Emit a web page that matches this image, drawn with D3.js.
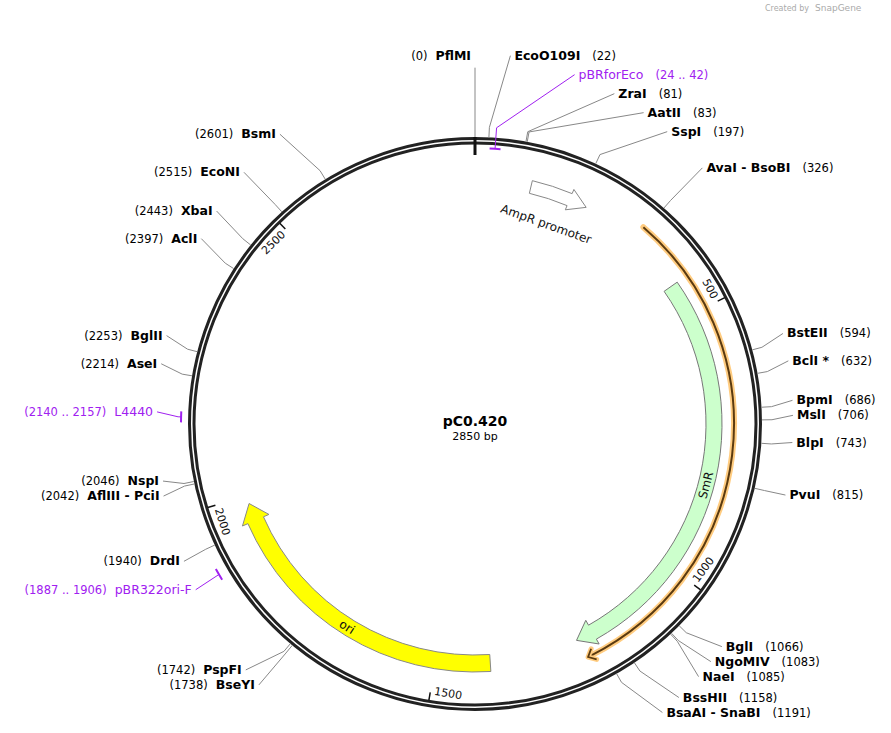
<!DOCTYPE html>
<html><head><meta charset="utf-8">
<script src="https://cdn.jsdelivr.net/npm/d3@7"></script>
<style>body{margin:0;background:#fff}svg{font-family:"DejaVu Sans",Verdana,sans-serif}</style>
</head><body><svg id="c" width="891" height="733"></svg>
<script>
const plasmidName = "pC0.420";
const plasmidLength = 2850;
const siteNames = ["PflMI","EcoO109I","ZraI","AatII","SspI","AvaI  - BsoBI","BstEII","BclI *","BpmI","MslI","BlpI","PvuI","BglI","NgoMIV","NaeI","BssHII","BsaAI  - SnaBI","PspFI","BseYI","DrdI","AflIII  - PciI","NspI","AseI","BglII","AclI","XbaI","EcoNI","BsmI"];
const sitePositions = [0,22,81,83,197,326,594,632,686,706,743,815,1066,1083,1085,1158,1191,1742,1738,1940,2042,2046,2214,2253,2397,2443,2515,2601];
const primerNames = ["pBRforEco","L4440","pBR322ori-F"];
const primerStarts = [24,2140,1887];
const primerEnds = [42,2157,1906];
const featureNames = ["AmpR promoter","SmR","ori",""];
const featureStarts = [105,435,1396,321];
const featureEnds = [215,1226,1984,1220];
const featureStrands = [1,1,1,1];
const tickValues = [500,1000,1500,2000,2500];

const svg = d3.select("#c");
const cx = 475, cy = 424, R = 287;
const ang = d3.scaleLinear().domain([0, plasmidLength]).range([0, 2*Math.PI]);
const pt = (a, r) => [cx + r*Math.sin(a), cy - r*Math.cos(a)];
const deg = a => a*180/Math.PI;

svg.append("text").attr("x",765).attr("y",11).attr("font-size",8).attr("fill","#aaa").text("Created by ");
svg.append("text").attr("x",815).attr("y",11).attr("font-size",9).attr("fill","#aaa").text("SnapGene");

function arcPath(a0, a1, r0, r1, strand){
  const head = 0.075;
  const rm = (r0+r1)/2, w = (r1-r0);
  const p = d3.path();
  if (strand > 0){
    const ab = Math.max(a0, a1 - head);
    let q = pt(a0, r1); p.moveTo(q[0], q[1]);
    p.arc(cx, cy, r1, a0 - Math.PI/2, ab - Math.PI/2, false);
    q = pt(ab, r1 + w*0.35); p.lineTo(q[0], q[1]);
    q = pt(a1, rm); p.lineTo(q[0], q[1]);
    q = pt(ab, r0 - w*0.35); p.lineTo(q[0], q[1]);
    q = pt(ab, r0); p.lineTo(q[0], q[1]);
    p.arc(cx, cy, r0, ab - Math.PI/2, a0 - Math.PI/2, true);
    p.closePath();
  } else {
    const ab = Math.min(a1, a0 + head);
    let q = pt(a1, r1); p.moveTo(q[0], q[1]);
    p.arc(cx, cy, r1, a1 - Math.PI/2, ab - Math.PI/2, true);
    q = pt(ab, r1 + w*0.35); p.lineTo(q[0], q[1]);
    q = pt(a0, rm); p.lineTo(q[0], q[1]);
    q = pt(ab, r0 - w*0.35); p.lineTo(q[0], q[1]);
    q = pt(ab, r0); p.lineTo(q[0], q[1]);
    p.arc(cx, cy, r0, ab - Math.PI/2, a1 - Math.PI/2, false);
    p.closePath();
  }
  return p.toString();
}
const fStyle = [
  {r0:237, r1:250, fill:"#fff", stroke:"#888"},
  {r0:231, r1:247, fill:"#ccffcc", stroke:"#777"},
  {r0:231, r1:248, fill:"#ffff00", stroke:"#888"}
];
{
  const a0 = ang(featureStarts[3]), a1 = ang(featureEnds[3]);
  const line = d3.path();
  line.arc(cx, cy, 259, a0 - Math.PI/2, a1 - 0.012 - Math.PI/2, false);
  svg.append("path").attr("d", line.toString()).attr("fill","none").attr("stroke","#ffcc80").attr("stroke-width",6).attr("stroke-linecap","round");
  svg.append("path").attr("d", line.toString()).attr("fill","none").attr("stroke","#5a3a10").attr("stroke-width",2);
  const t = pt(a1, 259), b1 = pt(a1 - 0.025, 265), b2 = pt(a1 - 0.025, 253);
  svg.append("path").attr("d",`M${b1}L${t}L${b2}`).attr("fill","none").attr("stroke","#ffcc80").attr("stroke-width",5).attr("stroke-linecap","round").attr("stroke-linejoin","round");
  svg.append("path").attr("d",`M${b1}L${t}L${b2}`).attr("fill","none").attr("stroke","#5a3a10").attr("stroke-width",1.8);
}
featureNames.slice(0,3).forEach((n,i) => {
  const s = fStyle[i];
  svg.append("path").attr("d", arcPath(ang(featureStarts[i]), ang(featureEnds[i]), s.r0, s.r1, featureStrands[i]))
    .attr("fill", s.fill).attr("stroke", s.stroke).attr("stroke-width", 1);
});
const fLab = [{pos:155, r:212},{pos:830, r:239},{pos:1680, r:240}];
fLab.forEach((l,i)=>{
  const a = ang(l.pos), q = pt(a, l.r);
  let rot = deg(a); if (rot > 90 && rot < 270) rot -= 180;
  svg.append("text").attr("transform",`translate(${q[0]},${q[1]}) rotate(${rot})`)
    .attr("text-anchor","middle").attr("dominant-baseline","central").attr("font-size",12).attr("fill","#111").text(featureNames[i]);
});

svg.append("circle").attr("cx",cx).attr("cy",cy).attr("r",R-1.5).attr("fill","none").attr("stroke","#222").attr("stroke-width",3);
svg.append("circle").attr("cx",cx).attr("cy",cy).attr("r",R-6).attr("fill","none").attr("stroke","#222").attr("stroke-width",3);
{ const a = pt(0, R), b = pt(0, 269);
  svg.append("line").attr("x1",a[0]).attr("y1",a[1]).attr("x2",b[0]).attr("y2",b[1]).attr("stroke","#111").attr("stroke-width",3); }

tickValues.forEach(v=>{
  const a = ang(v), p1 = pt(a, 280), p2 = pt(a, 272);
  svg.append("line").attr("x1",p1[0]).attr("y1",p1[1]).attr("x2",p2[0]).attr("y2",p2[1]).attr("stroke","#111").attr("stroke-width",1.5);
  const label = String(v);
  const off = (label.length*7/2 + 4)/272;
  const q = pt(a - off, 271);
  let rot = deg(a); if (rot > 90 && rot < 270) rot -= 180;
  svg.append("text").attr("transform",`translate(${q[0]},${q[1]}) rotate(${rot})`)
    .attr("text-anchor","middle").attr("dominant-baseline","central").attr("font-size",11).attr("fill","#111").text(label);
});

const purple = "#a020f0";
const primerR = [276, 294, 297];
primerNames.forEach((n,i)=>{
  const p = d3.path();
  p.arc(cx, cy, primerR[i], ang(primerStarts[i]) - Math.PI/2, ang(primerEnds[i]) - Math.PI/2, false);
  svg.append("path").attr("d", p.toString()).attr("fill","none").attr("stroke",purple).attr("stroke-width",2);
});

const items = [];
siteNames.forEach((n,i)=> items.push({name:n, num:`(${sitePositions[i]})`, pos:sitePositions[i], r0:R, primer:false}));
primerNames.forEach((n,i)=> items.push({name:n, num:`(${primerStarts[i]} .. ${primerEnds[i]})`, pos:(primerStarts[i]+primerEnds[i])/2, r0:primerR[i], primer:true}));
const LR = 335, gap = 15;
items.forEach(d=>{ d.a = ang(d.pos); d.ny = cy - LR*Math.cos(d.a); d.right = d.pos > 0 && d.pos <= plasmidLength/2; });
function layout(list, g0){
  list.sort((a,b)=>a.ny-b.ny);
  const groups = [];
  list.forEach(it=>{
    groups.push({items:[it], c:it.ny});
    while (groups.length > 1){
      const g = groups[groups.length-1], p = groups[groups.length-2];
      const gp = p.c < 200 ? g0 : gap;
      const pBottom = p.c + (p.items.length-1)*gp/2, gTop = g.c - (g.items.length-1)*gp/2;
      if (gTop - pBottom < gp){
        const m = p.items.concat(g.items);
        groups.splice(-2, 2, {items:m, c:d3.mean(m, d=>d.ny)});
      } else break;
    }
  });
  groups.forEach(g=>{ const gp = g.c < 200 ? g0 : gap; g.items.forEach((it,k)=> it.y = g.c - (g.items.length-1)*gp/2 + k*gp); });
}
const rightItems = items.filter(d=>d.right), leftItems = items.filter(d=>!d.right && d.pos>0), zero = items.filter(d=>d.pos===0);
layout(rightItems, 19); layout(leftItems, 15);
zero.forEach(d=> d.y = d3.min(rightItems, e=>e.y));
const Rx = 320, Ry = 365;
items.forEach(d=>{
  const dy = d.y - cy, ex = Rx*Math.sqrt(Math.max(0, 1 - (dy/Ry)*(dy/Ry)));
  const s = pt(d.a, 297);
  if (d.pos === 0){ d.x = cx - 4; }
  else if (d.right) d.x = Math.max(cx + ex, s[0] + 25);
  else d.x = Math.min(cx - ex, s[0] - 25);
});
items.forEach(d=>{
  const col = d.primer ? purple : "#888";
  const s = pt(d.a, d.r0), m = pt(d.a, 297);
  let e;
  if (d.pos === 0) e = [cx, d.y + 8];
  else e = d.right ? [d.x - 4, d.y - 4] : [d.x + 4, d.y - 4];
  svg.append("path").attr("d", `M${s}L${m}L${e}`).attr("fill","none").attr("stroke",col).attr("stroke-width",1);
  const t = svg.append("text").attr("x", d.x).attr("y", d.y).attr("font-size",12.5).attr("fill", d.primer ? purple : "#000")
    .attr("text-anchor", d.right ? "start" : "end");
  const nameW = d.primer ? "normal" : "bold";
  if (d.right){
    t.append("tspan").attr("font-weight",nameW).text(d.name);
    t.append("tspan").attr("dx",12).attr("font-size",11.5).text(d.num);
  } else {
    t.append("tspan").attr("font-size",11.5).text(d.num);
    t.append("tspan").attr("dx",8).attr("font-weight",nameW).text(d.name);
  }
});

svg.append("text").attr("x",cx).attr("y",cy+2).attr("text-anchor","middle").attr("font-size",14).attr("font-weight","bold").text(plasmidName);
svg.append("text").attr("x",cx).attr("y",cy+16).attr("text-anchor","middle").attr("font-size",11).text(plasmidLength + " bp");
</script></body></html>
